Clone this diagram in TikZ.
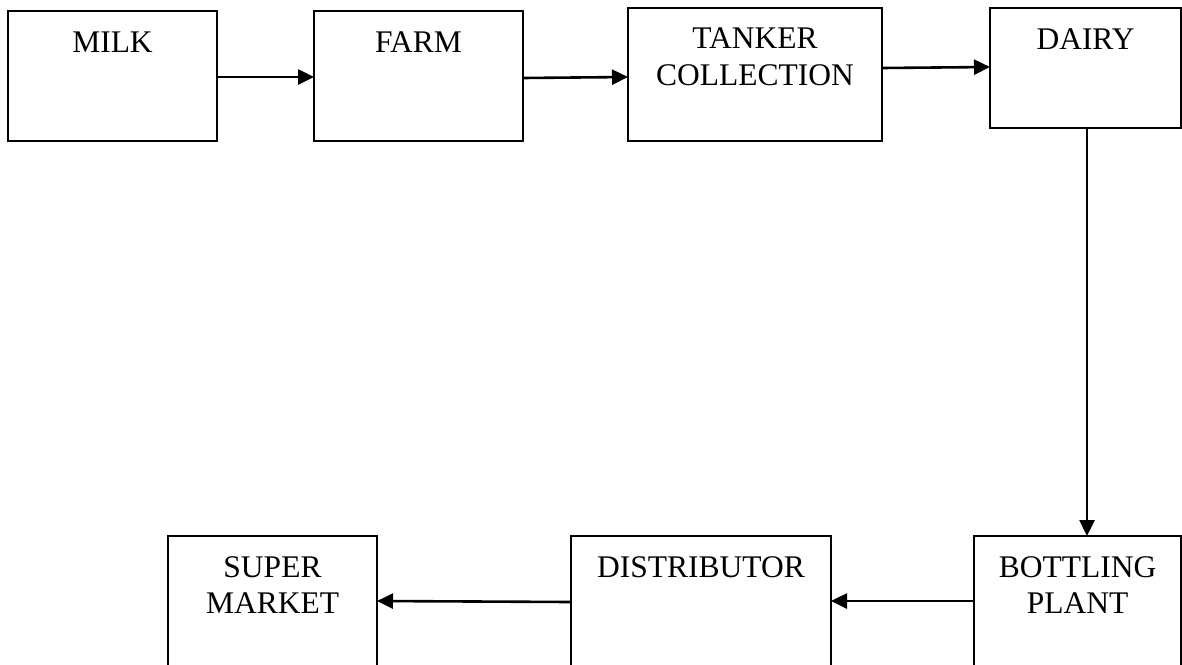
\documentclass[tikz,border=0pt]{standalone}
\usepackage{fontspec}
\setmainfont{Liberation Serif}
\usetikzlibrary{arrows.meta}

\begin{document}
\begin{tikzpicture}[x=1pt, y=-1pt,
  stage/.style={draw, line width=1.4pt, rectangle, inner sep=0pt, outer sep=0pt, anchor=north west},
  upper/.style={stage, minimum height=130pt},
  lower/.style={stage, minimum height=130pt},
  caption/.style={anchor=base, inner sep=0pt, font=\fontsize{31.5}{37}\selectfont},
  flow/.style={line width=2.6pt, -{Triangle[length=16pt, width=15pt]}}
]
\useasboundingbox (0,0) rectangle (1182,664);
\clip (0,0) rectangle (1182,664);

% upper row
\node[upper, minimum width=209pt] (milk)   at (8,11)  {};
\node[upper, minimum width=209pt] (farm)   at (314,11) {};
\node[stage, minimum width=254pt, minimum height=133pt] (tanker) at (628,8) {};
\node[stage, minimum width=191pt, minimum height=120pt] (dairy)  at (990,8) {};

% lower row (runs past the bottom edge)
\node[lower, minimum width=209pt] (market)  at (168,536) {};
\node[lower, minimum width=260pt] (distrib) at (571,536) {};
\node[lower, minimum width=207pt] (bottling) at (974,536) {};

% captions
\node[caption] (tmilk) at ([yshift=-41pt]milk.north) {MILK};
\node[caption] (tfarm) at ([yshift=-41pt]farm.north) {FARM};
\node[caption] (ttank1) at ([yshift=-40pt]tanker.north) {TANKER};
\node[caption] (ttank2) at ([yshift=-77pt]tanker.north) {COLLECTION};
\node[caption] (tdairy) at ([yshift=-41pt]dairy.north) {DAIRY};
\node[caption] (tsup1) at ([yshift=-41pt]market.north) {SUPER};
\node[caption] (tsup2) at ([yshift=-77pt]market.north) {MARKET};
\node[caption] (tdist) at ([yshift=-41pt]distrib.north) {DISTRIBUTOR};
\node[caption] (tbot1) at ([yshift=-41pt]bottling.north) {BOTTLING};
\node[caption] (tbot2) at ([yshift=-77pt]bottling.north) {PLANT};

% flow of the milk
\draw[flow] ([yshift=-1pt]milk.east) -- ([yshift=-1pt]farm.west);
\draw[flow] ([yshift=-2pt]farm.east) -- ([yshift=-2.5pt]tanker.west);
\draw[flow] ([yshift=6.5pt]tanker.east) -- ([yshift=1pt]dairy.west);
\draw[flow] ([xshift=1.5pt]dairy.south) -- ([xshift=1.5pt]dairy.south |- bottling.north);
\draw[flow] (bottling.west) -- (distrib.east);
\draw[flow] ([yshift=-1pt]distrib.west) -- (market.east);
\end{tikzpicture}
\end{document}
